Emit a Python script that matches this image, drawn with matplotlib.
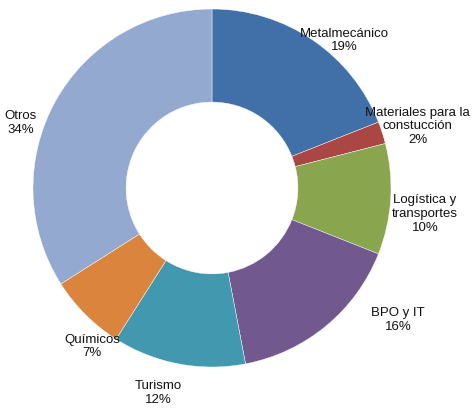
import matplotlib.pyplot as plt

sectores = ["Metalmecánico", "Materiales para la\nconstucción", "Logística y\ntransportes",
            "BPO y IT", "Turismo", "Químicos", "Otros"]
porcentajes = [19, 2, 10, 16, 12, 7, 34]
colores = ["#4170A8", "#AA4643", "#89A54E", "#71588F", "#4198AF", "#DB843D", "#93A9CF"]

# label centres in pie units (radius = 1)
label_pos = [(0.74, 0.83), (1.15, 0.35), (1.19, -0.14), (1.04, -0.73),
             (-0.30, -1.14), (-0.67, -0.88), (-1.07, 0.37)]

plt.rcParams["font.family"] = ["Liberation Sans", "DejaVu Sans"]

fig = plt.figure(figsize=(4.74, 4.10), dpi=100)
cx, cy, r = 212, 189, 179
ax = fig.add_axes([(cx - r) / 474, (410 - cy - r) / 410, 2 * r / 474, 2 * r / 410])

ax.pie(porcentajes, colors=colores, startangle=90, counterclock=False, radius=1,
       wedgeprops=dict(width=0.52, edgecolor="white", linewidth=0.3))

for nombre, pct, (x, y) in zip(sectores, porcentajes, label_pos):
    ax.text(x, y, f"{nombre}\n{pct}%", ha="center", va="center", fontsize=9.5,
            color="#111111", linespacing=1.2)

ax.set_xlim(-1, 1)
ax.set_ylim(-1, 1)
ax.set_aspect("equal")
ax.axis("off")

fig.savefig("out.png", dpi=100)
